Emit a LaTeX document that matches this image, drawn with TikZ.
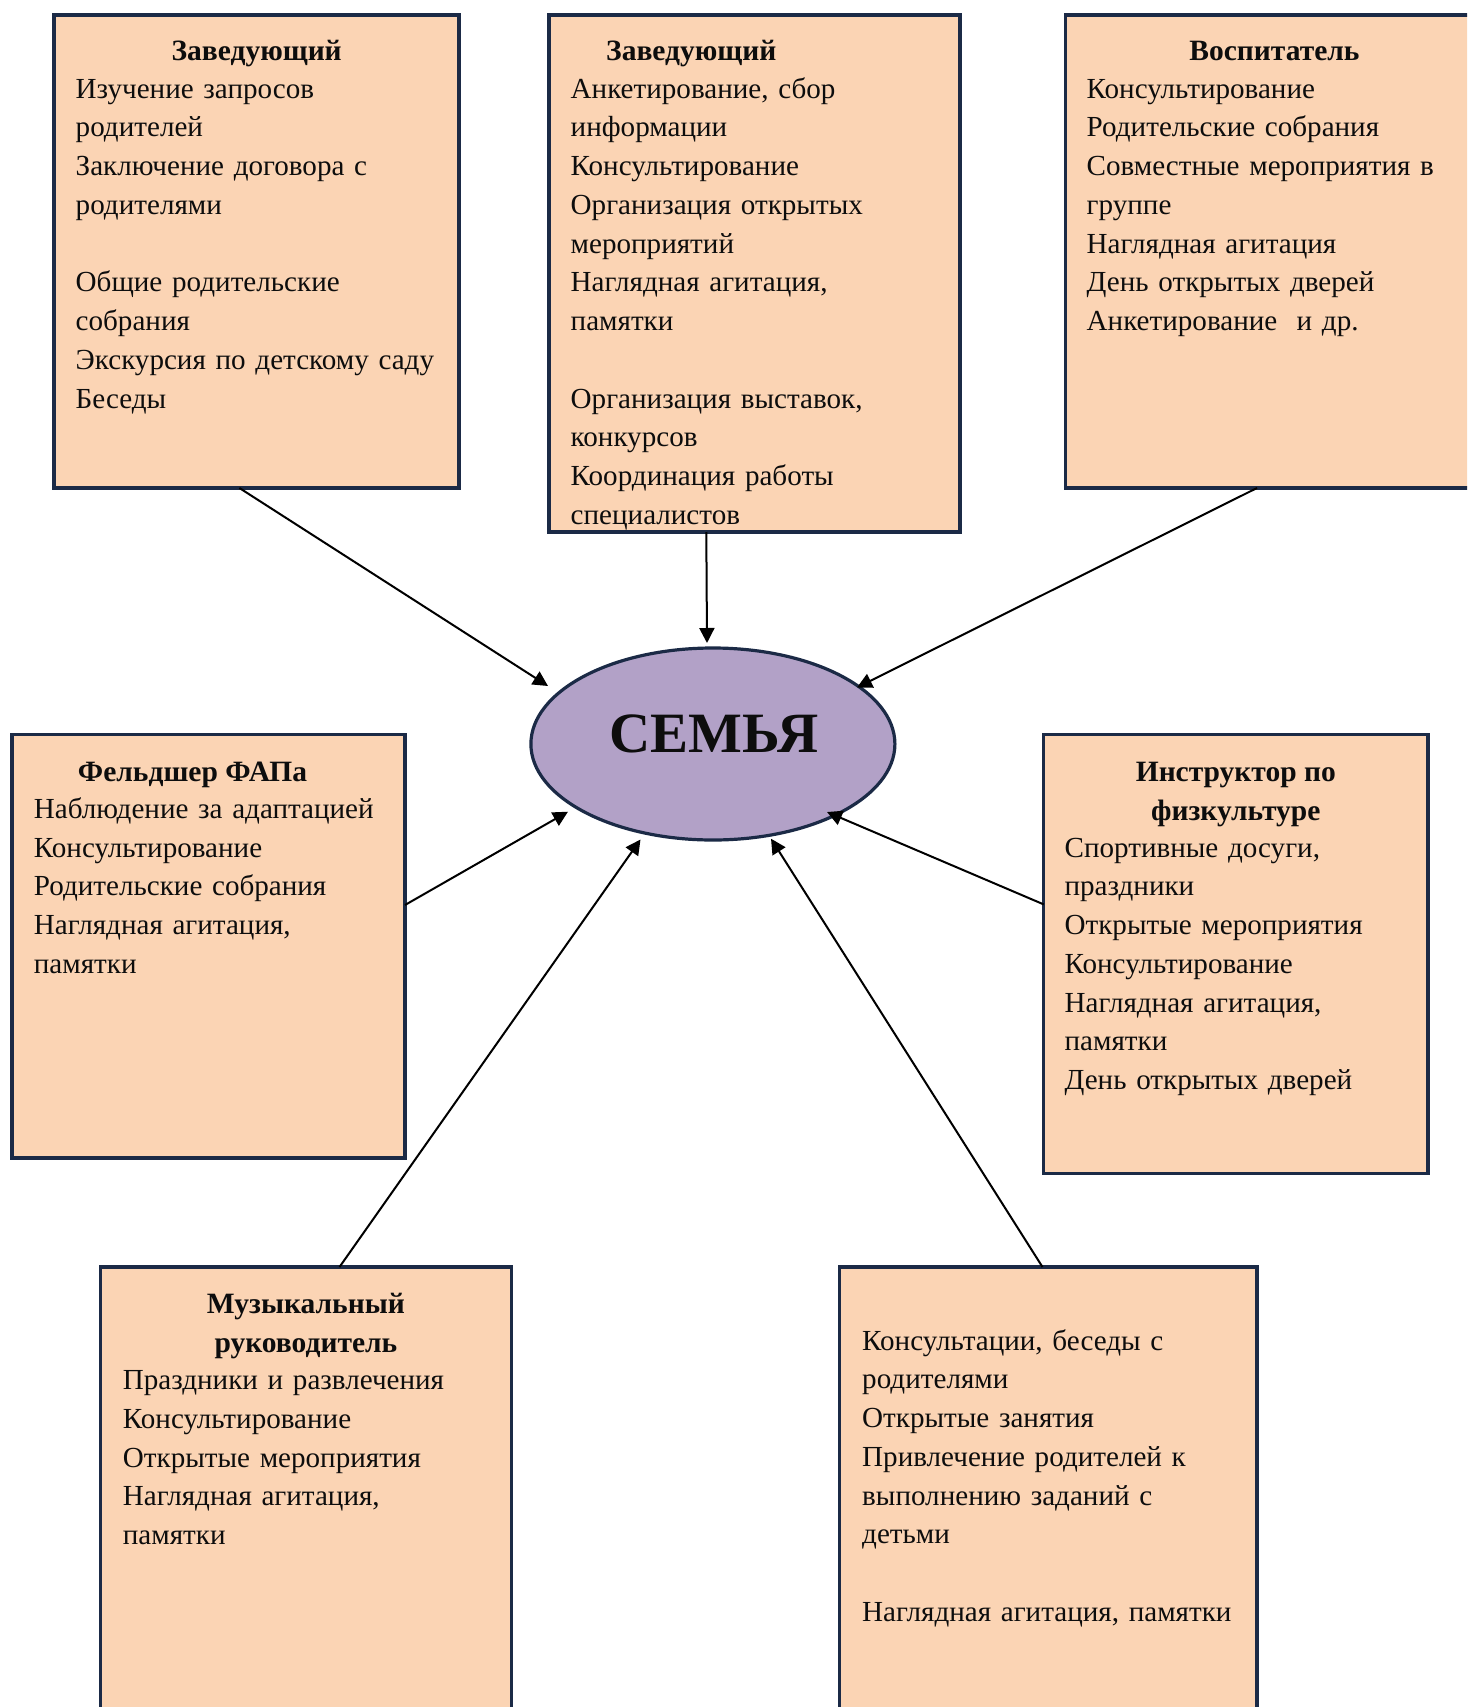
\documentclass[tikz,border=0pt]{standalone}
\usepackage{fontspec}
\setmainfont{Liberation Serif}
\usetikzlibrary{arrows.meta,shapes.geometric}
\definecolor{peach}{HTML}{FBD4B4}
\definecolor{navy}{HTML}{1B2A46}
\definecolor{lav}{HTML}{B2A1C7}
\definecolor{ink}{HTML}{0D0D0D}
\tikzset{
  box/.style={rectangle, draw=navy, line width=3.2pt, fill=peach, inner sep=0pt, outer sep=0pt, anchor=north west},
  body/.style={anchor=base west, inner sep=0pt, text width=520pt, align=left, text=ink, font=\fontsize{29.1}{38.75}\selectfont},
  head/.style={anchor=base, inner sep=0pt, text=ink, font=\fontsize{29.5}{38.75}\selectfont\bfseries},
  headl/.style={anchor=base west, inner sep=0pt, text=ink, font=\fontsize{29.5}{38.75}\selectfont\bfseries},
  arr/.style={draw=black, line width=2pt, -{Triangle[length=15pt,width=15pt]}},
}
\begin{document}
\begin{tikzpicture}[x=1pt,y=-1pt]
\clip (0,0) rectangle (1467,1707);
\fill[white] (0,0) rectangle (1467,1707);

% boxes
\node[box, minimum width=405pt, minimum height=473pt] (b1) at (54,15) {};
\node[box, minimum width=411pt, minimum height=517pt] (b2) at (549,15) {};
\node[box, minimum width=450pt, minimum height=473pt] (b3) at (1065.5,15) {};
\node[box, minimum width=393pt, minimum height=423.4pt] (b4) at (12,734.6) {};
\node[box, minimum width=384.3pt, minimum height=438.5pt] (b5) at (1043.7,734.6) {};
\node[box, minimum width=411pt, minimum height=500pt] (b6) at (100.5,1267) {};
\node[box, minimum width=417.5pt, minimum height=500pt] (b7) at (839.5,1267) {};

% centre
\node[ellipse, draw=navy, line width=3.2pt, fill=lav, minimum width=364pt, minimum height=192pt, inner sep=0pt] (fam) at (712.9,744) {};
\node[anchor=base, inner sep=0pt, text=ink, font=\fontsize{57}{60}\selectfont\bfseries] (famtxt) at (714,752) {СЕМЬЯ};

% box 1
\node[head] (h1) at (256.7,60.5) {Заведующий};
\node[body] (t1) at (75.5,98.2) {Изучение запросов\\
родителей\\
Заключение договора с\\
родителями\\[38.75pt]
Общие родительские\\
собрания\\
Экскурсия по детскому саду\\
Беседы};

% box 2
\node[headl] (h2) at (606,60.5) {Заведующий};
\node[body] (t2) at (570.5,98.2) {Анкетирование, сбор\\
информации\\
Консультирование\\
Организация открытых\\
мероприятий\\
Наглядная агитация,\\
памятки\\[38.75pt]
Организация выставок,\\
конкурсов\\
Координация работы\\
специалистов};

% box 3
\node[head] (h3) at (1274.5,60.5) {Воспитатель};
\node[body] (t3) at (1086.5,98.2) {Консультирование\\
Родительские собрания\\
Совместные мероприятия в\\
группе\\
Наглядная агитация\\
День открытых дверей\\
Анкетирование\ \ и др.};

% box 4
\node[head] (h4) at (192.5,781.7) {Фельдшер ФАПа};
\node[body] (t4) at (33.7,818.3) {Наблюдение за адаптацией\\
Консультирование\\
Родительские собрания\\
Наглядная агитация,\\
памятки};

% box 5
\node[head] (h5a) at (1235.8,781.6) {Инструктор по};
\node[head] (h5b) at (1235.8,820.4) {физкультуре};
\node[body] (t5) at (1064.4,857) {Спортивные досуги,\\
праздники\\
Открытые мероприятия\\
Консультирование\\
Наглядная агитация,\\
памятки\\
День открытых дверей};

% box 6
\node[head] (h6a) at (305.9,1313.8) {Музыкальный};
\node[head] (h6b) at (305.9,1352.5) {руководитель};
\node[body] (t6) at (122.7,1389.5) {Праздники и развлечения\\
Консультирование\\
Открытые мероприятия\\
Наглядная агитация,\\
памятки};

% box 7
\node[body] (t7) at (862,1350) {Консультации, беседы с\\
родителями\\
Открытые занятия\\
Привлечение родителей к\\
выполнению заданий с\\
детьми\\[38.75pt]
Наглядная агитация, памятки};

% connector ends
\coordinate (s1) at ([xshift=185.4pt]b1.south west);
\coordinate (s2) at ([xshift=157.3pt]b2.south west);
\coordinate (s3) at ([xshift=191.5pt]b3.south west);
\coordinate (s4) at ([yshift=-170.4pt]b4.north east);
\coordinate (s5) at ([xshift=239pt]b6.north west);
\coordinate (s6) at ([xshift=203pt]b7.north west);
\coordinate (s7) at ([yshift=-169.8pt]b5.north west);
\coordinate (e1) at (548,686);
\coordinate (e2) at (707,643);
\coordinate (e3) at (857,687.5);
\coordinate (e4) at (568,811.7);
\coordinate (e5) at (640.5,839.5);
\coordinate (e6) at (771,838.7);
\coordinate (e7) at (827,812);

\draw[arr] (s1) -- (e1);
\draw[arr] (s2) -- (e2);
\draw[arr] (s3) -- (e3);
\draw[arr] (s4) -- (e4);
\draw[arr] (s5) -- (e5);
\draw[arr] (s6) -- (e6);
\draw[arr] (s7) -- (e7);
\end{tikzpicture}
\end{document}
